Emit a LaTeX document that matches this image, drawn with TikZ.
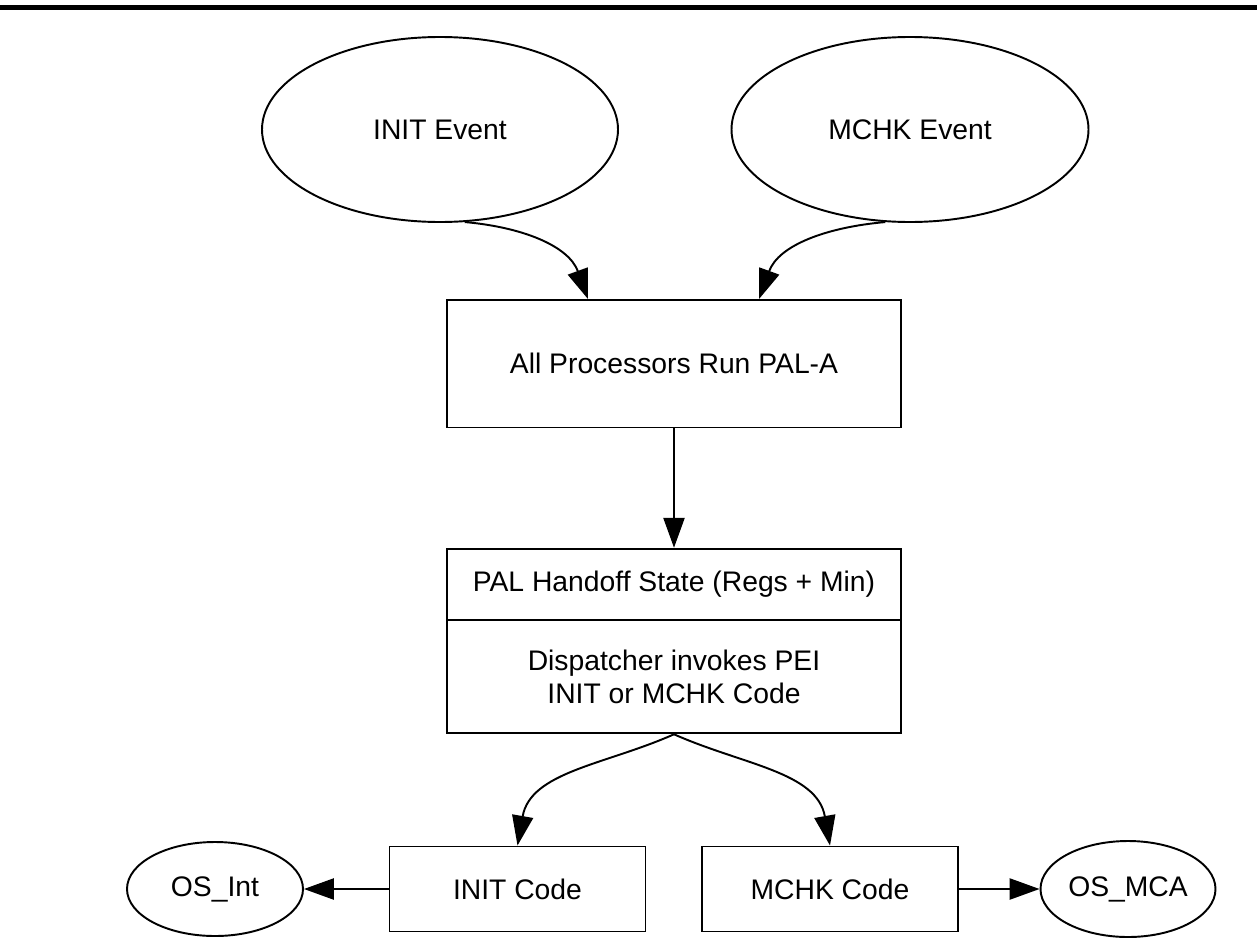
\documentclass[tikz,border=0pt]{standalone}
\usepackage{fontspec}
\setmainfont{Liberation Sans}
\usetikzlibrary{shapes.geometric,arrows.meta}

\begin{document}
\begin{tikzpicture}[
        event/.style={draw, ellipse, line width=1.1pt, inner sep=0pt},
        block/.style={draw, rectangle, line width=1.1pt, minimum width=9.08cm, align=center},
        flow/.style={line width=1.1pt, -{Triangle[length=17pt,width=12pt]}},
        font=\fontsize{16.1pt}{18.9pt}\selectfont]
        \useasboundingbox (0,0) rectangle (25.14,-19.02);
        \draw[line width=2.6pt] (0,-0.15) -- (25.14,-0.15);

        \node[event, minimum width=7.12cm, minimum height=3.7cm] (initev) at (8.80,-2.59) {INIT Event};
        \node[event, minimum width=7.14cm, minimum height=3.7cm] (mchkev) at (18.20,-2.59) {MCHK Event};

        \node[block, minimum height=2.55cm] (palA) at (13.48,-7.275) {All Processors Run PAL-A};
        \node[block, minimum height=1.426cm] (handoff) at (13.48,-11.687) {PAL Handoff State (Regs + Min)};
        \node[block, minimum height=2.266cm] (dispatch) at (13.48,-13.533) {Dispatcher invokes PEI\\INIT or MCHK Code};

        \node[block, minimum width=5.12cm, minimum height=1.7cm] (initcode) at (10.35,-17.78) {INIT Code};
        \node[block, minimum width=5.12cm, minimum height=1.7cm] (mchkcode) at (16.60,-17.78) {MCHK Code};
        \node[event, minimum width=3.52cm, minimum height=1.88cm] (osint) at (4.30,-17.78) {OS\_Int};
        \node[event, minimum width=3.50cm, minimum height=1.92cm] (osmca) at (22.56,-17.78) {OS\_MCA};

        \draw[flow] (initev.-75) to[out=-5,in=110] ([xshift=-1.72cm]palA.north);
        \draw[flow] (mchkev.-105) to[out=185,in=70] ([xshift=1.70cm]palA.north);
        \draw[flow] (palA) -- (handoff);
        \draw[flow] (dispatch.south) to[out=204,in=80] (initcode.north);
        \draw[flow] (dispatch.south) to[out=-24,in=100] (mchkcode.north);
        \draw[flow] (initcode) -- (osint);
        \draw[flow] (mchkcode) -- (osmca);
    \end{tikzpicture}
\end{document}
